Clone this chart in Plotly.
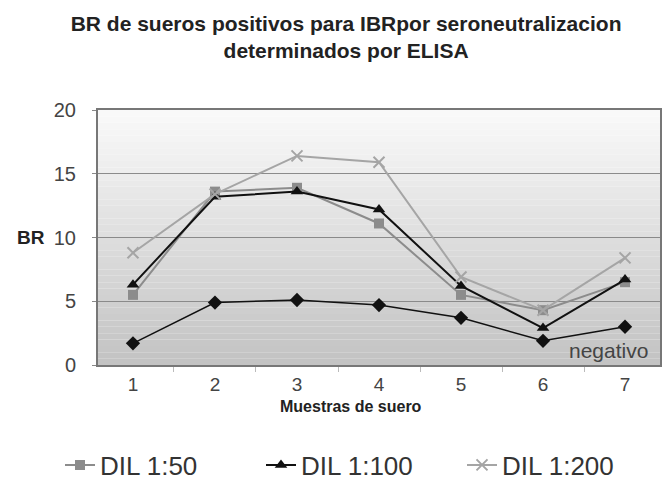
import plotly.graph_objects as go

categories = ["1", "2", "3", "4", "5", "6", "7"]
dil_50 = [5.5, 13.6, 13.9, 11.1, 5.5, 4.3, 6.5]
dil_100 = [6.3, 13.2, 13.6, 12.2, 6.2, 2.9, 6.7]
dil_200 = [8.8, 13.4, 16.4, 15.9, 6.9, 4.3, 8.4]
negativo = [1.7, 4.9, 5.1, 4.7, 3.7, 1.9, 3.0]
y_ticks = [0, 5, 10, 15, 20]

FONT = "Liberation Sans, Arial, sans-serif"

fig = go.Figure()

# gradient plot background
n = 40
top = (250, 250, 250)
bot = (194, 194, 194)
for i in range(n):
    t = (i + 0.5) / n
    c = tuple(int(round(top[k] + (bot[k] - top[k]) * t)) for k in range(3))
    fig.add_shape(type="rect", xref="x domain", yref="y domain",
                  x0=0, x1=1, y0=1 - (i + 1) / n, y1=1 - i / n,
                  fillcolor=f"rgb{c}", line_width=0, layer="below")

fig.add_trace(go.Scatter(x=categories, y=negativo, mode="lines+markers", name="negativo",
                         showlegend=False,
                         line=dict(color="#111111", width=1.5),
                         marker=dict(symbol="diamond", size=11, color="#111111")))
fig.add_trace(go.Scatter(x=categories, y=dil_50, mode="lines+markers", name="DIL 1:50",
                         line=dict(color="#8c8c8c", width=2),
                         marker=dict(symbol="square", size=10, color="#8c8c8c")))
fig.add_trace(go.Scatter(x=categories, y=dil_100, mode="lines+markers", name="DIL 1:100",
                         line=dict(color="#111111", width=2),
                         marker=dict(symbol="triangle-up", size=11, color="#111111")))
fig.add_trace(go.Scatter(x=categories, y=dil_200, mode="lines+markers", name="DIL 1:200",
                         line=dict(color="#a5a5a5", width=2),
                         marker=dict(symbol="x-thin-open", size=11, color="#a5a5a5",
                                     line=dict(width=2, color="#a5a5a5"))))

fig.add_annotation(x=0.909, y=0.057, xref="x domain", yref="y domain", xanchor="center",
                   yanchor="middle", text="negativo", showarrow=False,
                   font=dict(size=21, color="#444444", family=FONT))
fig.add_annotation(x=-0.12, y=0.5, xref="x domain", yref="y domain", xanchor="center",
                   yanchor="middle", text="<b>BR</b>", showarrow=False,
                   font=dict(size=19, color="#222222", family=FONT))
fig.add_annotation(x=0.45, y=-0.162, xref="x domain", yref="y domain", xanchor="center",
                   yanchor="middle", text="<b>Muestras de suero</b>", showarrow=False,
                   font=dict(size=16, color="#222222", family=FONT))

fig.update_layout(
    width=663, height=491,
    margin=dict(l=98, r=3, t=110, b=118),
    paper_bgcolor="white", plot_bgcolor="white",
    font=dict(family=FONT, color="#333333"),
    title=dict(text="<b>BR de sueros positivos para IBRpor seroneutralizacion<br>determinados por ELISA</b>",
               x=0.522, xanchor="center", xref="container", y=0.937, yanchor="top",
               font=dict(size=21, color="#222222", family=FONT)),
    xaxis=dict(type="category", tickson="boundaries", ticks="outside", ticklen=5,
               tickcolor="#bbbbbb", showgrid=False, showline=True, linecolor="#777777",
               linewidth=2, mirror=True, automargin=False, ticklabelstandoff=1,
               tickfont=dict(size=19, color="#444444")),
    yaxis=dict(range=[0, 20], tickvals=y_ticks, ticks="outside", ticklen=4,
               tickcolor="#888888", showgrid=True, gridcolor="#8a8a8a", gridwidth=1,
               zeroline=False, showline=True, linecolor="#777777", linewidth=2, mirror=True,
               automargin=False, ticklabelstandoff=12,
               tickfont=dict(size=20, color="#444444")),
    legend=dict(orientation="h", x=-0.031, xanchor="left", y=-0.3, yanchor="top",
                font=dict(size=26, color="#333333"), entrywidth=156, entrywidthmode="pixels"),
)

fig.write_html("out.html", config={"displayModeBar": False},
               post_script="document.body.style.margin='0';")
